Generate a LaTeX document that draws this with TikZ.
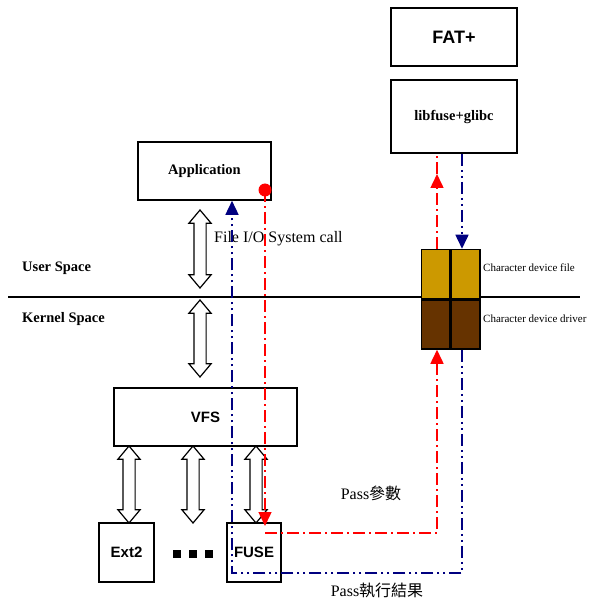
\documentclass[tikz,border=0pt]{standalone}
\usepackage{fontspec}
\setmainfont{Liberation Serif}
\setsansfont{Liberation Sans}
\newfontfamily\cjk{Noto Sans CJK TC}
\usepackage{tikz}
\usetikzlibrary{shapes.arrows, arrows.meta, positioning, calc}
\definecolor{cdred}{RGB}{255,0,0}
\definecolor{cdnavy}{RGB}{0,0,128}
\definecolor{cdgold}{RGB}{204,153,0}
\definecolor{cdbrown}{RGB}{102,51,0}
\tikzset{
  box/.style={rectangle, draw, line width=1.6pt, fill=white, inner sep=0pt},
  cell/.style={rectangle, draw, line width=1.5pt, minimum width=28.5pt, minimum height=49pt, inner sep=0pt},
  dblarrow/.style={double arrow, draw, line width=1.2pt, fill=white, rotate=90,
    minimum width=21pt, inner sep=0pt, inner ysep=5.5pt, double arrow head extend=5pt,
    double arrow tip angle=80},
  redline/.style={cdred, line width=1.5pt, dash pattern=on 12pt off 4pt on 2pt off 4pt},
  blueline/.style={cdnavy, line width=1.5pt, dash pattern=on 12pt off 4pt on 2pt off 4pt on 2pt off 4pt},
  tip/.style={-{Triangle[width=13pt,length=14pt]}},
  lbl/.style={font=\fontsize{16}{18}\selectfont, inner sep=0pt},
  sidelbl/.style={font=\fontsize{11}{13}\selectfont, inner sep=0pt, anchor=west}
}
\begin{document}
\begin{tikzpicture}[x=1pt, y=-1pt]
  \useasboundingbox (0,0) rectangle (595,601);

  % Boxes
  \node[box, minimum width=126pt, minimum height=58pt, font=\sffamily\bfseries\fontsize{18}{20}\selectfont] (fat) at (454,37) {FAT+};
  \node[box, minimum width=126pt, minimum height=73pt, font=\bfseries\fontsize{14.5}{16}\selectfont] (lib) at (454,116.5) {libfuse+glibc};
  \node[box, minimum width=133pt, minimum height=58pt, font=\bfseries\fontsize{14.5}{16}\selectfont] (app) at (204.5,171) {Application};
  \node[box, minimum width=183pt, minimum height=58pt, font=\sffamily\bfseries\fontsize{15}{17}\selectfont] (vfs) at (205.5,417) {VFS};
  \node[box, minimum width=55pt, minimum height=59pt, font=\sffamily\bfseries\fontsize{15}{17}\selectfont] (ext) at (126.5,552.5) {Ext2};
  \node[box, minimum width=54pt, minimum height=59pt, font=\sffamily\bfseries\fontsize{15}{17}\selectfont] (fuse) at (254,552.5) {FUSE};

  % User / kernel boundary
  \draw[line width=1.2pt] (8,297) -- (580,297);
  \node[lbl, font=\bfseries\fontsize{14.5}{16}\selectfont, anchor=west] (user) at (22,268) {User Space};
  \node[lbl, font=\bfseries\fontsize{14.5}{16}\selectfont, anchor=west] (kernel) at (22,319) {Kernel Space};

  % Character device
  \node[cell, fill=cdgold] (cfl) at (435.5,274) {};
  \node[cell, fill=cdgold, right=0pt of cfl] (cfr) {};
  \node[cell, fill=cdbrown, below=0pt of cfl] (cdl) {};
  \node[cell, fill=cdbrown, right=0pt of cdl] (cdr) {};
  \node[sidelbl] (cflbl) at (483,268) {Character device file};
  \node[sidelbl] (cdlbl) at (483,319) {Character device driver};

  % Hollow arrows
  \node[dblarrow, minimum height=78pt] (a1) at (200,249) {};
  \node[dblarrow, minimum height=77pt] (a2) at (200,338.5) {};
  \node[dblarrow, minimum height=77pt] (a3) at (129,484.5) {};
  \node[dblarrow, minimum height=77pt] (a4) at (193,484.5) {};
  \node[dblarrow, minimum height=77pt] (a5) at (256,484.5) {};
  \node[lbl, anchor=west] (syscall) at (214,239) {File I/O System call};

  % Dots
  \foreach \x in {177,193,209}
    \fill (\x-3.7,550) rectangle (\x+3.7,557.5);

  % Request path
  \node[circle, fill=cdred, inner sep=0pt, minimum size=13pt] (rdot) at (265,190) {};
  \coordinate (r1) at (265,533);
  \coordinate (r2) at (437,533);
  \coordinate (r3) at (437,174);
  \draw[redline, tip] (rdot.center) -- (265,526);
  \draw[redline, tip] (r1) -- (r2) -- (cdl.south -| r2);
  \draw[redline, tip] (cfl.north -| r2) -- (r3);
  \draw[redline] (r3) -- (lib.south -| r3);
  \node[lbl] (pass1) at (371,493) {Pass{\cjk 參數}};

  % Reply path
  \coordinate (b1) at (462,573);
  \coordinate (b2) at (232,573);
  \draw[blueline, tip] (lib.south -| b1) -- (cfr.north -| b1);
  \draw[blueline, tip] (cdr.south -| b1) -- (b1) -- (b2) -- (app.south -| b2);
  \node[lbl] (pass2) at (377,590) {Pass{\cjk 執行結果}};
\end{tikzpicture}
\end{document}
